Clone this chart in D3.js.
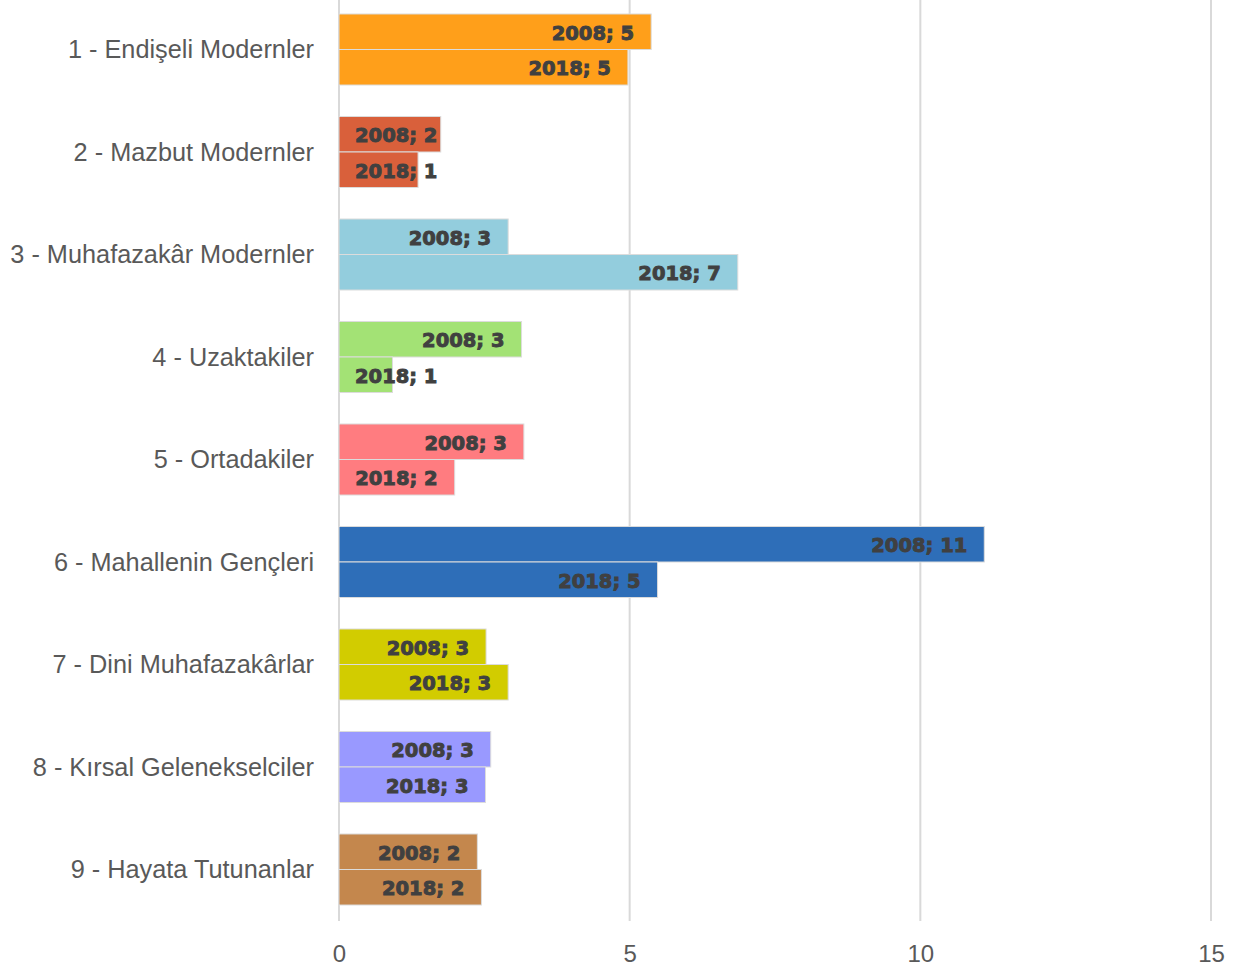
<!DOCTYPE html>
<html>
<head>
<meta charset="utf-8">
<script src="https://cdn.jsdelivr.net/npm/d3@7"></script>
<style>
  html, body { margin: 0; padding: 0; background: #fff; }
  svg { display: block; }
</style>
</head>
<body>
<svg id="chart" width="1242" height="971"></svg>
<script>
const categories = [
  "1 - Endişeli Modernler",
  "2 - Mazbut Modernler",
  "3 - Muhafazakâr Modernler",
  "4 - Uzaktakiler",
  "5 - Ortadakiler",
  "6 - Mahallenin Gençleri",
  "7 - Dini Muhafazakârlar",
  "8 - Kırsal Gelenekselciler",
  "9 - Hayata Tutunanlar"
];
const seriesNames = ["2008", "2018"];
const values2008 = [5.37, 1.75, 2.91, 3.14, 3.18, 11.10, 2.53, 2.61, 2.38];
const values2018 = [4.97, 1.36, 6.86, 0.92, 1.99, 5.48, 2.91, 2.52, 2.45];
const categoryColors = ["#FF9F1A", "#D9603B", "#93CDDD", "#A3E275", "#FF7C80", "#2E6EB8", "#D2CC00", "#9999FF", "#C4874D"];
const xTicks = [0, 5, 10, 15];

const svg = d3.select("#chart");
const x = d3.scaleLinear().domain([0, 15]).range([339, 1211]);
const y = d3.scaleBand().domain(categories).range([-1.75, 920.75]).paddingInner(0.307).paddingOuter(0.1535);
const yInner = d3.scaleBand().domain(seriesNames).range([0, y.bandwidth()]).padding(0);

// gridlines
svg.append("g").selectAll("line").data(xTicks).join("line")
  .attr("x1", d => x(d)).attr("x2", d => x(d))
  .attr("y1", 0).attr("y2", 921)
  .attr("stroke", "#d9d9d9").attr("stroke-width", 2);

// x axis tick labels
const xAxis = d3.axisBottom(x).tickValues(xTicks).tickSize(0).tickPadding(0);
const gx = svg.append("g").attr("transform", "translate(0,945)").call(xAxis);
gx.select(".domain").remove();
gx.selectAll("text")
  .attr("dy", null)
  .attr("y", 17)
  .attr("fill", "#595959")
  .attr("font-family", "'Liberation Sans', Arial, sans-serif")
  .attr("font-size", 24);

// category labels
const yAxis = d3.axisLeft(y).tickSize(0).tickPadding(0);
const gy = svg.append("g").attr("transform", "translate(314,0)").call(yAxis);
gy.select(".domain").remove();
gy.selectAll("text")
  .attr("fill", "#595959")
  .attr("font-family", "'Liberation Sans', Arial, sans-serif")
  .attr("font-size", 25.3)
  .attr("dy", "0.35em");

// bars
const rows = [];
categories.forEach((c, i) => {
  rows.push({cat: c, series: "2008", value: values2008[i], color: categoryColors[i]});
  rows.push({cat: c, series: "2018", value: values2018[i], color: categoryColors[i]});
});

const gBars = svg.append("g");
gBars.selectAll("rect").data(rows).join("rect")
  .attr("x", x(0))
  .attr("y", d => y(d.cat) + yInner(d.series))
  .attr("width", d => x(d.value) - x(0))
  .attr("height", yInner.bandwidth())
  .attr("fill", d => d.color)
  .attr("stroke", "#dcdcdc")
  .attr("stroke-width", 1);

// data labels
const gLabels = svg.append("g");
gLabels.selectAll("text").data(rows).join("text")
  .attr("font-family", "'DejaVu Sans', sans-serif")
  .attr("font-weight", "bold")
  .attr("font-size", 19.5)
  .attr("fill", "#404040")
  .attr("stroke", "#404040")
  .attr("stroke-width", 0.9)
  .attr("y", d => y(d.cat) + yInner(d.series) + yInner.bandwidth() / 2 + 1)
  .attr("dy", "0.36em")
  .text(d => d.series + "; " + Math.round(d.value))
  .each(function(d) {
    const w = this.getComputedTextLength();
    const right = x(d.value) - 17;
    const minLeft = x(0) + 16;
    if (right - w < minLeft) {
      d3.select(this).attr("x", minLeft).attr("text-anchor", "start");
    } else {
      d3.select(this).attr("x", right).attr("text-anchor", "end");
    }
  });
</script>
</body>
</html>
